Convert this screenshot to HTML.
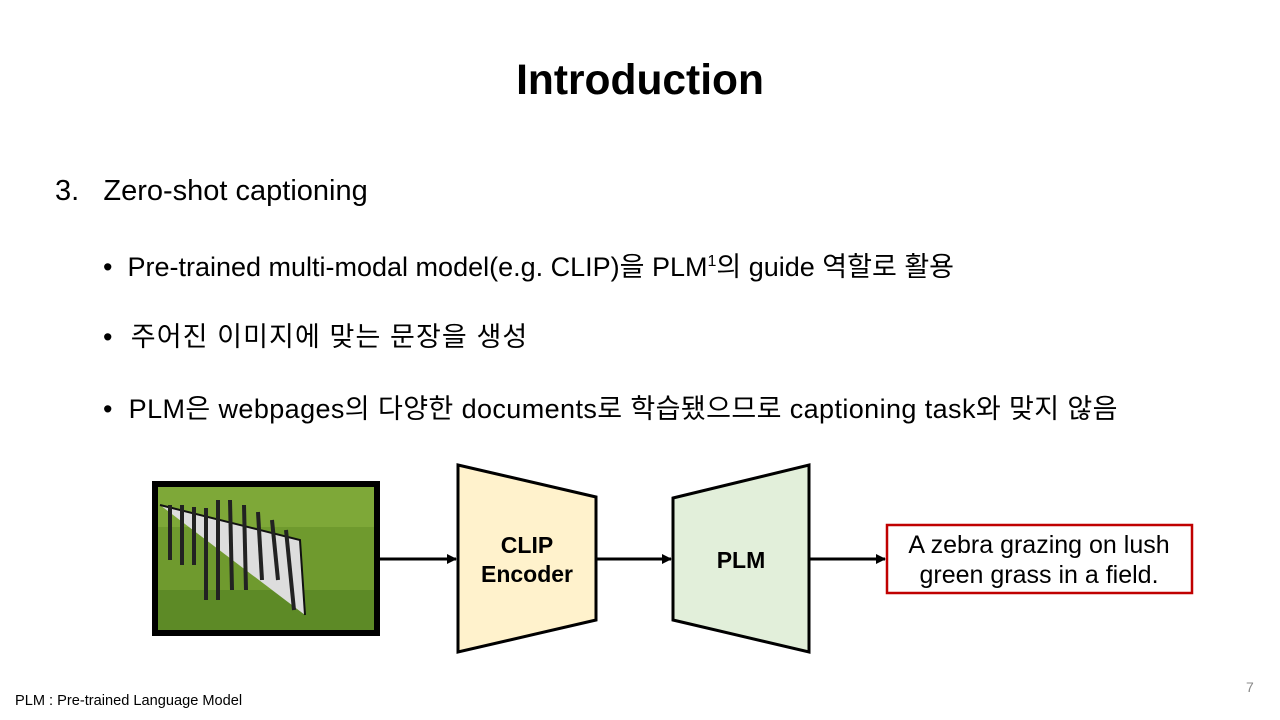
<!DOCTYPE html>
<html><head><meta charset="utf-8"><style>
body{margin:0;width:1280px;height:720px;background:#fff;position:relative;overflow:hidden;font-family:"Liberation Sans","Noto Sans CJK KR",sans-serif;color:#000}
.t{position:absolute;white-space:nowrap}
</style></head><body>
<div class="t" style="left:0;width:1280px;text-align:center;top:57px;font-size:42.5px;font-weight:bold">Introduction</div>
<div class="t" style="left:55px;top:175px;font-size:29px">3.&nbsp;&nbsp;&nbsp;Zero-shot captioning</div>
<div class="t" style="left:103px;top:245px;font-size:27px;letter-spacing:0px">•&nbsp;&nbsp;Pre-trained multi-modal model(e.g. CLIP)을 PLM<sup style="font-size:16px">1</sup>의 guide 역할로 활용</div>
<div class="t" style="left:103px;top:315px;font-size:27px;letter-spacing:1.1px">•&nbsp;&nbsp;주어진 이미지에 맞는 문장을 생성</div>
<div class="t" style="left:103px;top:387px;font-size:27px;letter-spacing:0.4px">•&nbsp;&nbsp;PLM은 webpages의 다양한 documents로 학습됐으므로 captioning task와 맞지 않음</div>
<svg width="1280" height="720" style="position:absolute;left:0;top:0">
<defs><marker id="a" markerWidth="10" markerHeight="10" refX="9" refY="5" orient="auto" markerUnits="userSpaceOnUse"><path d="M0,0 L10,5 L0,10z" fill="#000"/></marker></defs>
<rect x="155" y="484" width="222" height="149" fill="#6f9a2e" stroke="#000" stroke-width="6"/>
<rect x="158" y="487" width="216" height="40" fill="#7ea838"/>
<rect x="158" y="590" width="216" height="40" fill="#5d8a26"/>
<g stroke="#222" stroke-width="4">
<path d="M160 505 L300 540 L305 615" fill="#ddd" stroke="#111" stroke-width="2"/>
<line x1="170" y1="505" x2="170" y2="560"/><line x1="182" y1="505" x2="182" y2="565"/><line x1="194" y1="507" x2="194" y2="565"/><line x1="206" y1="508" x2="206" y2="600"/><line x1="218" y1="500" x2="218" y2="600"/><line x1="230" y1="500" x2="232" y2="590"/><line x1="244" y1="505" x2="246" y2="590"/><line x1="258" y1="512" x2="262" y2="580"/><line x1="272" y1="520" x2="278" y2="580"/><line x1="286" y1="530" x2="294" y2="610"/>
</g>
<line x1="380" y1="559" x2="456" y2="559" stroke="#000" stroke-width="3" marker-end="url(#a)"/>
<polygon points="458,465 596,497 596,620 458,652" fill="#fff2cc" stroke="#000" stroke-width="3"/>
<line x1="596" y1="559" x2="671" y2="559" stroke="#000" stroke-width="3" marker-end="url(#a)"/>
<polygon points="673,498 809,465 809,652 673,620" fill="#e2efda" stroke="#000" stroke-width="3"/>
<line x1="809" y1="559" x2="885" y2="559" stroke="#000" stroke-width="3" marker-end="url(#a)"/>
<rect x="887" y="525" width="305" height="68" fill="#fff" stroke="#c00000" stroke-width="2.5"/>
<g font-family="Liberation Sans, Noto Sans CJK KR, sans-serif" text-anchor="middle">
<text x="527" y="553" font-size="23" font-weight="bold">CLIP</text>
<text x="527" y="582" font-size="23" font-weight="bold">Encoder</text>
<text x="741" y="568" font-size="23" font-weight="bold">PLM</text>
<text x="1039" y="553" font-size="25">A zebra grazing on lush</text>
<text x="1039" y="583" font-size="25">green grass in a field.</text>
</g>
</svg>
<div class="t" style="left:15px;top:693px;font-size:14.6px">PLM : Pre-trained Language Model</div>
<div class="t" style="left:1246px;top:679px;font-size:14px;color:#888">7</div>
</body></html>
